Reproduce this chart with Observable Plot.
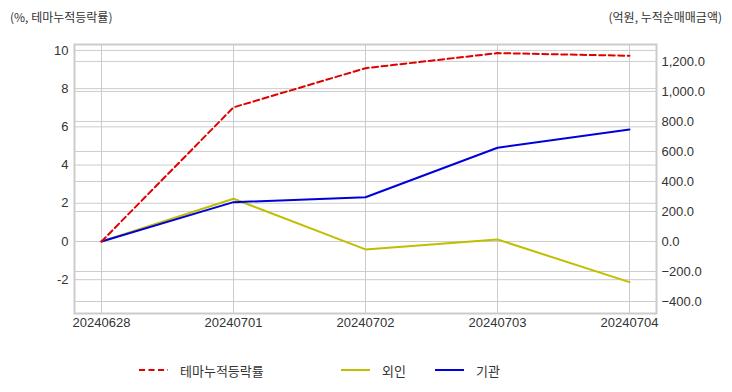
<!DOCTYPE html>
<html>
<head>
<meta charset="utf-8">
<script src="https://cdn.jsdelivr.net/npm/d3@7"></script>
<script src="https://cdn.jsdelivr.net/npm/@observablehq/plot@0.6"></script>
<style>
  body { margin: 0; background: #fff; font-family: "Liberation Sans", "Noto Sans CJK KR", sans-serif; color: #333; }
  #wrap { position: relative; width: 732px; height: 392px; }
  .title { position: absolute; top: 8px; font-size: 12px; color: #333; font-family: "Noto Sans CJK KR", sans-serif; }
  #chart { position: absolute; top: 30px; left: 0; }
  .leg { position: absolute; top: 360px; display: flex; align-items: center; font-size: 13px; font-family: "Noto Sans CJK KR", sans-serif; color: #333; }
  .leg svg { margin-right: 12px; }
</style>
</head>
<body>
<div id="wrap">
  <div class="title" style="left:10px;">(%, 테마누적등락률)</div>
  <div class="title" style="right:10px;">(억원, 누적순매매금액)</div>
  <div id="chart"></div>
  <div id="legend"></div>
</div>
<script>
const dates = ["20240628", "20240701", "20240702", "20240703", "20240704"];
const themeReturn = [0, 7.02, 9.07, 9.86, 9.72];      // %, left axis
const foreign = [0, 285, -53, 13, -271];              // 억원, right axis
const institution = [0, 262, 295, 625, 747];          // 억원, right axis
const leftTicks = [-2, 0, 2, 4, 6, 8, 10];
const rightTicks = [-400, -200, 0, 200, 400, 600, 800, 1000, 1200];
const leftDomain = [-3.77, 10.31];
const k = 127.33; // right units per left unit

const seriesNames = ["테마누적등락률", "외인", "기관"];
const colors = ["#e00000", "#bfbf00", "#0000dd"];

const themeData = dates.map((d, i) => ({date: d, v: themeReturn[i]}));
const foreignData = dates.map((d, i) => ({date: d, v: foreign[i] / k}));
const instData = dates.map((d, i) => ({date: d, v: institution[i] / k}));

const fmtR = d3.format(",.1f");

const chart = Plot.plot({
  width: 732,
  height: 310,
  marginLeft: 74,
  marginRight: 76,
  marginTop: 14,
  marginBottom: 27,
  style: {fontFamily: "Liberation Sans, Noto Sans CJK KR, sans-serif", fontSize: "13px", color: "#333", background: "#fff"},
  x: {type: "point", domain: dates, padding: 0.2, label: null},
  y: {domain: leftDomain, label: null},
  marks: [
    Plot.gridX(dates, {stroke: "#cccccc", strokeOpacity: 1, strokeWidth: 1}),
    Plot.gridY(leftTicks, {stroke: "#cccccc", strokeOpacity: 1, strokeWidth: 1}),
    Plot.gridY(rightTicks.map(t => t / k), {stroke: "#cccccc", strokeOpacity: 1, strokeWidth: 1}),
    Plot.frame({stroke: "#cccccc", strokeWidth: 2}),
    Plot.axisX(dates, {tickSize: 0, tickPadding: 4, label: null, fontSize: 13, fill: "#333"}),
    Plot.axisY(leftTicks, {anchor: "left", tickSize: 0, tickPadding: 6, label: null, tickFormat: d => String(d), fontSize: 13, fill: "#333"}),
    Plot.axisY(rightTicks.map(t => t / k), {anchor: "right", tickSize: 0, tickPadding: 5, label: null, tickFormat: d => fmtR(Math.round(d * k)), fontSize: 13, fill: "#333"}),
    Plot.line(foreignData, {x: "date", y: "v", stroke: colors[1], strokeWidth: 2}),
    Plot.line(instData, {x: "date", y: "v", stroke: colors[2], strokeWidth: 2}),
    Plot.line(themeData, {x: "date", y: "v", stroke: colors[0], strokeWidth: 2, strokeDasharray: "6,3.5"})
  ]
});
document.getElementById("chart").appendChild(chart);

const legendPos = [139, 341, 435];
const legend = document.getElementById("legend");
seriesNames.forEach((name, i) => {
  const item = document.createElement("div");
  item.className = "leg";
  item.style.left = legendPos[i] + "px";
  const dash = i === 0 ? 'stroke-dasharray="6,3.5"' : "";
  item.innerHTML = `<svg width="29" height="20"><line x1="0" y1="10" x2="29" y2="10" stroke="${colors[i]}" stroke-width="2" ${dash}/></svg><span>${name}</span>`;
  legend.appendChild(item);
});
</script>
</body>
</html>
